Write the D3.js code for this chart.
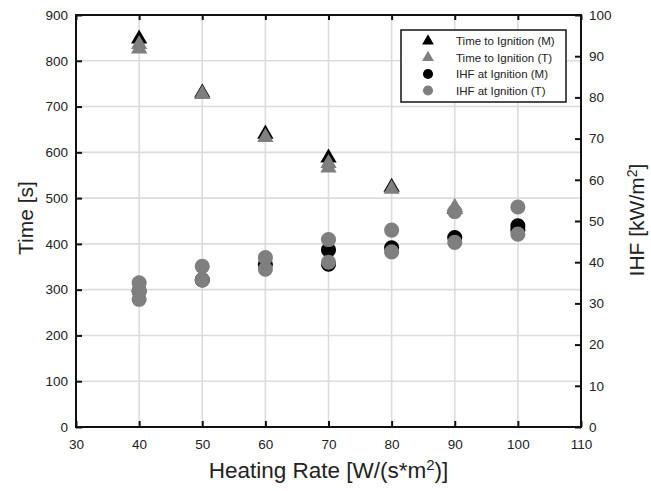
<!DOCTYPE html>
<html>
<head>
<meta charset="utf-8">
<script src="https://cdn.jsdelivr.net/npm/d3@7"></script>
<style>
    body { margin: 0; background: #fff; }
    svg { font-family: "Liberation Sans", Arial, sans-serif; }
    .grid line { stroke: #dcdcdc; stroke-width: 1.6; }
    .tick text { fill: #222; font-size: 13.5px; }
    .frame { fill: none; stroke: #111; stroke-width: 2; }
</style>
</head>
<body>
<svg id="chart" width="651" height="491"></svg>
<script>
// Time to ignition, measured (M) and test (T) series
var timeRateM = [40, 50, 60, 70, 80, 90];
var timeValM  = [848, 730, 640, 588, 524, 476];
var timeRateT = [40, 40, 50, 60, 70, 70, 80, 90];
var timeValT  = [836, 826, 727, 633, 576, 566, 520, 480];

// Incident heat flux at ignition
var ihfRateM = [40, 50, 60, 70, 70, 80, 90, 100, 100];
var ihfValM  = [33, 35.7, 39.5, 43, 39.5, 43.5, 46, 48.8, 47.8];
var ihfRateT = [40, 40, 40, 50, 50, 60, 60, 70, 70, 80, 80, 90, 90, 100, 100];
var ihfValT  = [35, 33, 31, 39, 35.7, 41.1, 38.3, 45.5, 40, 47.8, 42.5, 52.3, 44.8, 53.4, 46.8];

var xTicks = [30, 40, 50, 60, 70, 80, 90, 100, 110];
var yLeftTicks = [0, 100, 200, 300, 400, 500, 600, 700, 800, 900];
var yRightTicks = [0, 10, 20, 30, 40, 50, 60, 70, 80, 90, 100];
var legendLabels = ["Time to Ignition (M)", "Time to Ignition (T)", "IHF at Ignition (M)", "IHF at Ignition (T)"];

var svg = d3.select("#chart");
var margin = {top: 15, right: 70, bottom: 64, left: 76};
var width = 651 - margin.left - margin.right;   // 505
var height = 491 - margin.top - margin.bottom;  // 412

var g = svg.append("g").attr("transform", "translate(" + margin.left + "," + margin.top + ")");

var x = d3.scaleLinear().domain([30, 110]).range([0, width]);
var yL = d3.scaleLinear().domain([0, 900]).range([height, 0]);
var yR = d3.scaleLinear().domain([0, 100]).range([height, 0]);

var black = "#000", gray = "#7f7f7f";

// grid lines (from left axis and x axis only)
var grid = g.append("g").attr("class", "grid");
grid.selectAll(".gy").data(yLeftTicks.slice(1, -1)).enter().append("line")
    .attr("x1", 0).attr("x2", width)
    .attr("y1", function(d) { return yL(d); }).attr("y2", function(d) { return yL(d); });
grid.selectAll(".gx").data(xTicks.slice(1, -1)).enter().append("line")
    .attr("y1", 0).attr("y2", height)
    .attr("x1", function(d) { return x(d); }).attr("x2", function(d) { return x(d); });

// axes with inward ticks
function styleAxis(sel) {
    sel.select(".domain").remove();
    sel.selectAll(".tick line").attr("stroke", "#111").attr("stroke-width", 2);
}
g.append("g").attr("transform", "translate(0," + height + ")")
    .call(d3.axisBottom(x).tickValues(xTicks).tickSizeInner(-6).tickSizeOuter(0).tickPadding(12))
    .call(styleAxis);
g.append("g")
    .call(d3.axisTop(x).tickValues(xTicks).tickSizeInner(-5).tickSizeOuter(0).tickFormat(""))
    .call(styleAxis);
g.append("g")
    .call(d3.axisLeft(yL).tickValues(yLeftTicks).tickSizeInner(-6).tickSizeOuter(0).tickPadding(8))
    .call(styleAxis);
g.append("g").attr("transform", "translate(" + width + ",0)")
    .call(d3.axisRight(yR).tickValues(yRightTicks).tickSizeInner(-6).tickSizeOuter(0).tickPadding(8))
    .call(styleAxis);

g.append("rect").attr("class", "frame").attr("width", width).attr("height", height);

// markers
var tri = d3.symbol().type(d3.symbolTriangle).size(115);
var dot = d3.symbol().type(d3.symbolCircle).size(180);

function drawSeries(xs, vs, scale, sym, color) {
    g.append("g").selectAll("path").data(xs).enter().append("path")
        .attr("d", sym)
        .attr("fill", color)
        .attr("transform", function(d, i) { return "translate(" + x(d) + "," + scale(vs[i]) + ")"; });
}
drawSeries(timeRateM, timeValM, yL, tri, black);
drawSeries(timeRateT, timeValT, yL, tri, gray);
drawSeries(ihfRateM, ihfValM, yR, dot, black);
drawSeries(ihfRateT, ihfValT, yR, dot, gray);

// legend
var lg = svg.append("g").attr("transform", "translate(401,30)");
lg.append("rect").attr("width", 165).attr("height", 72)
    .attr("fill", "#fff").attr("stroke", "#222").attr("stroke-width", 1.6);
var lTri = d3.symbol().type(d3.symbolTriangle).size(60);
var lDot = d3.symbol().type(d3.symbolCircle).size(80);
var legendSyms = [lTri, lTri, lDot, lDot];
var legendCols = [black, gray, black, gray];
legendLabels.forEach(function(label, i) {
    var row = lg.append("g").attr("transform", "translate(0," + (11 + i * 16.5) + ")");
    row.append("path").attr("d", legendSyms[i]).attr("fill", legendCols[i])
        .attr("transform", "translate(27,0)");
    row.append("text").attr("x", 55).attr("dy", "0.35em")
        .attr("font-size", "11.5px").attr("fill", "#222").text(label);
});

// axis titles
svg.append("text")
    .attr("x", margin.left + width / 2).attr("y", 478)
    .attr("text-anchor", "middle").attr("font-size", "22.5px").attr("fill", "#222")
    .html('Heating Rate [W/(s*m<tspan dy="-8" font-size="15px">2</tspan><tspan dy="8">)]</tspan>');
svg.append("text")
    .attr("transform", "translate(33,218) rotate(-90)")
    .attr("text-anchor", "middle").attr("font-size", "21px").attr("fill", "#222")
    .text("Time [s]");
svg.append("text")
    .attr("transform", "translate(644,220) rotate(-90)")
    .attr("text-anchor", "middle").attr("font-size", "21px").attr("fill", "#222")
    .html('IHF [kW/m<tspan dy="-7" font-size="14px">2</tspan><tspan dy="7">]</tspan>');
</script>
</body>
</html>
